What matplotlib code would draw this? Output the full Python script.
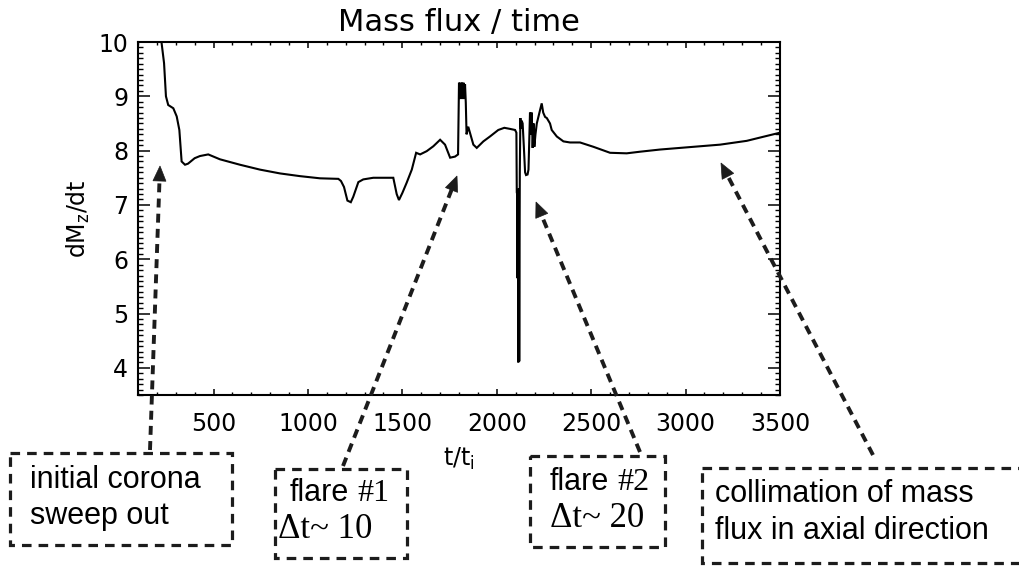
import matplotlib
matplotlib.use("Agg")
import matplotlib.pyplot as plt
import matplotlib.transforms as mtransforms
from matplotlib.patches import Rectangle, Polygon
from matplotlib.lines import Line2D
from matplotlib.ticker import MultipleLocator
import numpy as np

# ---------------- data ----------------
t_vals = [220, 225, 238, 248, 260, 287, 305, 319, 331, 349, 365, 400, 428, 472, 534,
          640, 746, 852, 958, 1064, 1161, 1175, 1191, 1209, 1227, 1240, 1267, 1293,
          1346, 1452, 1470, 1482, 1500, 1523, 1550, 1573, 1594, 1629, 1664, 1700,
          1726, 1753, 1779, 1795,
          1800, 1804, 1808, 1812, 1816, 1820, 1824, 1828, 1832, 1836, 1840,
          1849, 1876, 1894, 1929, 1964, 2008, 2040, 2070, 2097,
          2104, 2106, 2108, 2110, 2112, 2114, 2117, 2119, 2122, 2125, 2128, 2132,
          2137, 2143, 2150, 2155, 2163, 2168, 2176, 2180, 2185, 2190, 2195, 2199,
          2205, 2212, 2226, 2238, 2246, 2256, 2265, 2282, 2291, 2318, 2353, 2388,
          2441, 2512, 2600, 2688, 2759, 2865, 3006, 3183, 3324, 3394, 3500]
v_vals = [10.6, 9.98, 9.61, 9.00, 8.84, 8.78, 8.63, 8.38, 7.80, 7.74, 7.76, 7.86, 7.90, 7.93, 7.84,
          7.74, 7.65, 7.58, 7.53, 7.49, 7.48, 7.44, 7.33, 7.08, 7.05, 7.15, 7.42, 7.47,
          7.50, 7.50, 7.20, 7.09, 7.22, 7.41, 7.65, 7.96, 7.93, 7.99, 8.08, 8.20,
          8.11, 7.87, 7.89, 7.93,
          9.25, 8.95, 9.25, 8.95, 9.25, 8.95, 9.25, 8.95, 9.22, 8.88, 8.30,
          8.44, 8.11, 8.05, 8.17, 8.26, 8.38, 8.42, 8.40, 8.38,
          8.33, 7.23, 7.20, 5.65, 7.20, 4.10, 7.30, 4.12, 7.60, 8.60, 8.40, 8.55,
          8.50, 8.10, 7.60, 7.55, 7.56, 7.65, 8.70, 8.30, 8.70, 8.05, 8.50, 8.07,
          8.30, 8.50, 8.70, 8.87, 8.70, 8.62, 8.60, 8.50, 8.38, 8.26, 8.17, 8.15,
          8.15, 8.07, 7.96, 7.95, 7.98, 8.02, 8.06, 8.11, 8.18, 8.24, 8.33]

x_ticks = [500, 1000, 1500, 2000, 2500, 3000, 3500]
y_ticks = [4, 5, 6, 7, 8, 9, 10]

title_text = "Mass flux / time"
xlabel_text = r"t/t$_\mathrm{i}$"
ylabel_text = r"dM$_\mathrm{z}$/dt"

W, H = 1020, 567
fig = plt.figure(figsize=(W / 100, H / 100), dpi=100)
ax = fig.add_axes([138 / W, 1 - 395 / H, 642 / W, 353 / H])

ax.plot(t_vals, v_vals, color="black", lw=1.5, solid_joinstyle="miter")
ax.set_xlim(100, 3500)
ax.set_ylim(3.5, 10)
ax.set_xticks(x_ticks)
ax.set_yticks(y_ticks)
ax.xaxis.set_minor_locator(MultipleLocator(100))
ax.yaxis.set_minor_locator(MultipleLocator(0.1))
ax.tick_params(axis="both", which="both", direction="in", top=True, right=True,
               color="black")
ax.tick_params(axis="x", which="major", length=4.5, width=1.1, pad=12, labelsize=17)
ax.tick_params(axis="x", which="minor", length=2.5, width=1.0)
ax.tick_params(axis="y", which="major", length=8.5, width=1.1, pad=7, labelsize=17)
ax.tick_params(axis="y", which="minor", length=3.8, width=1.0)
for s in ax.spines.values():
    s.set_linewidth(1.5)

ax.set_title(title_text, fontsize=22, pad=8)
ax.set_xlabel(xlabel_text, fontsize=17)
ax.xaxis.set_label_coords(0.50, -0.145)
ax.set_ylabel(ylabel_text, fontsize=17)
ax.yaxis.set_label_coords(-0.072, 0.50)

# ---------------- annotations (pixel space, y downward) ----------------
pix = mtransforms.Affine2D().scale(1 / W, -1 / H).translate(0, 1) + fig.transFigure
dash_col = "#1c1c1c"

boxes = [(10, 453, 232, 545), (275, 469, 407, 558), (530, 456, 665, 547), (702, 468, 1026, 563)]
for (x0, y0, x1, y1) in boxes:
    fig.patches.append(Rectangle((x0, y0), x1 - x0, y1 - y0, transform=pix, fill=False,
                                 ec=dash_col, lw=2.3, ls=(0, (3.0, 2.2))))

arrows = [((150, 450), (160, 166)), ((343, 466), (457, 176)),
          ((640, 452), (536, 202)), ((873, 455), (721, 163))]
for (sx, sy), (tx, ty) in arrows:
    d = np.array([tx - sx, ty - sy], float)
    d /= np.hypot(*d)
    n = np.array([-d[1], d[0]])
    L, hw = 15, 6.5
    base = np.array([tx, ty]) - L * d
    fig.lines.append(Line2D([sx, base[0] + 2 * d[0]], [sy, base[1] + 2 * d[1]], transform=pix,
                            color=dash_col, lw=2.8, ls=(0, (2.3, 1.6))))
    tri = [(tx, ty), tuple(base + hw * n), tuple(base - hw * n)]
    fig.patches.append(Polygon(tri, closed=True, transform=pix, fc=dash_col, ec=dash_col, lw=0.5))

sans = "Liberation Sans"
serif = "Liberation Serif"
fs = 22

def txt(x, y, s, fam, size=fs):
    return fig.text(x, y, s, transform=pix, fontsize=size, family=fam, ha="left", va="baseline")

txt(30, 488, "initial corona", sans)
txt(30, 524, "sweep out", sans)
txt(715, 502, "collimation of mass", sans)
txt(715, 539, "flux in axial direction", sans)
txt(278, 538, "\u0394t~ 10", serif, 25)
txt(550, 527, "\u0394t~ 20", serif, 25)

fig.canvas.draw()
renderer = fig.canvas.get_renderer()
for (x, y, num) in [(290, 501, "#1"), (550, 490, "#2")]:
    t1 = txt(x, y, "flare", sans)
    bb = t1.get_window_extent(renderer)
    xd = bb.x1 + 8
    yd = pix.transform((0, y))[1]
    fig.text(xd, yd, num, transform=mtransforms.IdentityTransform(), fontsize=23,
             family=serif, ha="left", va="baseline")

fig.savefig("out.png", dpi=100)
